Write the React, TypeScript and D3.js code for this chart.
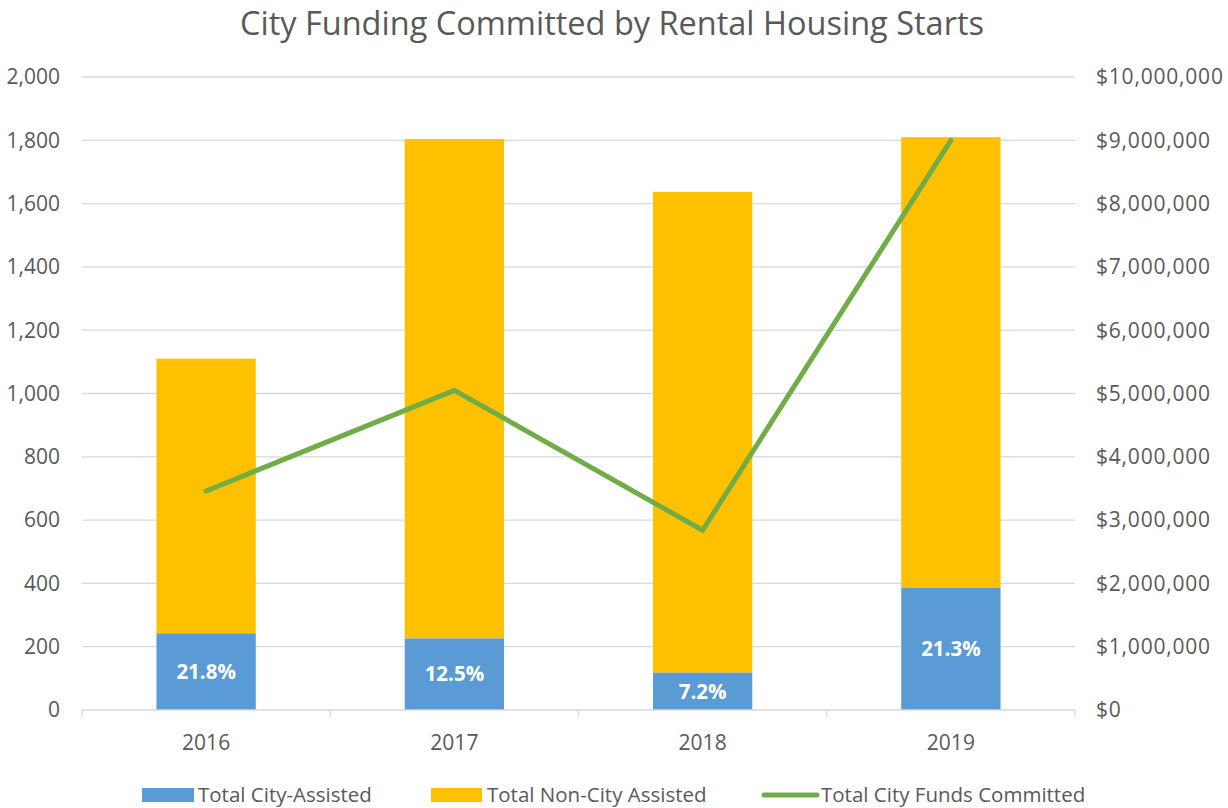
import React, { useEffect, useRef } from "react";
import * as d3 from "d3";

const years = ["2016", "2017", "2018", "2019"];
const cityAssisted = [242, 226, 118, 386];
const nonCityAssisted = [868, 1578, 1519, 1424];
const shareLabels = ["21.8%", "12.5%", "7.2%", "21.3%"];
const fundsCommitted = [3460000, 5050000, 2840000, 9000000];
const leftTicks = [0, 200, 400, 600, 800, 1000, 1200, 1400, 1600, 1800, 2000];
const rightTicks = [0, 1e6, 2e6, 3e6, 4e6, 5e6, 6e6, 7e6, 8e6, 9e6, 1e7];

const W = 1228, H = 808;
const m = { left: 82, right: 1075, top: 77, bottom: 710 };
const FONT = "'Open Sans', 'Noto Sans', sans-serif";
const TXT = "#595959";

export default function App() {
  const ref = useRef<SVGSVGElement>(null);

  useEffect(() => {
    const svg = d3.select(ref.current);
    svg.selectAll("*").remove();

    const x = d3.scaleBand().domain(years).range([m.left, m.right]).paddingInner(0.6).paddingOuter(0.3);
    const y = d3.scaleLinear().domain([0, 2000]).range([m.bottom, m.top]);
    const y2 = d3.scaleLinear().domain([0, 1e7]).range([m.bottom, m.top]);
    const step = (m.right - m.left) / years.length;

    // grid
    svg.append("g").selectAll("line").data(leftTicks.slice(1)).enter().append("line")
      .attr("x1", m.left).attr("x2", m.right)
      .attr("y1", d => y(d)).attr("y2", d => y(d))
      .attr("stroke", "#d9d9d9").attr("stroke-width", 1.3);

    // left labels
    svg.append("g").selectAll("text").data(leftTicks).enter().append("text")
      .attr("x", 60).attr("y", d => y(d)).attr("dy", "0.35em")
      .attr("text-anchor", "end").attr("font-family", FONT).attr("font-size", 21).attr("fill", TXT)
      .text(d => d3.format(",")(d));

    // right labels
    svg.append("g").selectAll("text").data(rightTicks).enter().append("text")
      .attr("x", 1096).attr("y", d => y2(d)).attr("dy", "0.35em")
      .attr("text-anchor", "start").attr("font-family", FONT).attr("font-size", 21).attr("fill", TXT)
      .attr("letter-spacing", 0.8)
      .text(d => "$" + d3.format(",")(d));

    // bars
    const gb = svg.append("g");
    years.forEach((yr, i) => {
      const total = cityAssisted[i] + nonCityAssisted[i];
      gb.append("rect").attr("x", x(yr)!).attr("width", x.bandwidth())
        .attr("y", y(total)).attr("height", y(cityAssisted[i]) - y(total)).attr("fill", "#ffc000");
      gb.append("rect").attr("x", x(yr)!).attr("width", x.bandwidth())
        .attr("y", y(cityAssisted[i])).attr("height", y(0) - y(cityAssisted[i])).attr("fill", "#5b9bd5");
      gb.append("text").attr("x", x(yr)! + x.bandwidth() / 2)
        .attr("y", (y(cityAssisted[i]) + y(0)) / 2).attr("dy", "0.35em")
        .attr("text-anchor", "middle").attr("font-family", FONT).attr("font-weight", "bold")
        .attr("font-size", 20.5).attr("fill", "#fff").text(shareLabels[i]);
    });

    // x axis
    svg.append("line").attr("x1", m.left).attr("x2", m.right).attr("y1", m.bottom).attr("y2", m.bottom)
      .attr("stroke", "#d9d9d9").attr("stroke-width", 1.3);
    d3.range(years.length + 1).forEach(i => {
      svg.append("line").attr("x1", m.left + i * step).attr("x2", m.left + i * step)
        .attr("y1", m.bottom).attr("y2", m.bottom + 7).attr("stroke", "#d9d9d9").attr("stroke-width", 1.3);
    });
    svg.append("g").selectAll("text").data(years).enter().append("text")
      .attr("x", d => x(d)! + x.bandwidth() / 2).attr("y", 743).attr("dy", "0.35em")
      .attr("text-anchor", "middle").attr("font-family", FONT).attr("font-size", 21).attr("fill", TXT)
      .text(d => d);

    // line
    const line = d3.line<number>()
      .x((_, i) => x(years[i])! + x.bandwidth() / 2)
      .y(d => y2(d));
    svg.append("path").datum(fundsCommitted).attr("d", line)
      .attr("fill", "none").attr("stroke", "#70ad47").attr("stroke-width", 5)
      .attr("stroke-linecap", "round").attr("stroke-linejoin", "round");

    // title
    svg.append("text").attr("x", 612).attr("y", 35).attr("text-anchor", "middle")
      .attr("font-family", FONT).attr("font-size", 32.5).attr("fill", TXT)
      .text("City Funding Committed by Rental Housing Starts");

    // legend
    const lg = svg.append("g").attr("font-family", FONT).attr("font-size", 20.5).attr("fill", TXT);
    lg.append("rect").attr("x", 142).attr("y", 788).attr("width", 52).attr("height", 14).attr("fill", "#5b9bd5");
    lg.append("text").attr("x", 198).attr("y", 795).attr("dy", "0.35em").text("Total City-Assisted");
    lg.append("rect").attr("x", 431).attr("y", 788).attr("width", 51).attr("height", 14).attr("fill", "#ffc000");
    lg.append("text").attr("x", 487).attr("y", 795).attr("dy", "0.35em").text("Total Non-City Assisted");
    lg.append("line").attr("x1", 764).attr("x2", 817).attr("y1", 795).attr("y2", 795)
      .attr("stroke", "#70ad47").attr("stroke-width", 5).attr("stroke-linecap", "round");
    lg.append("text").attr("x", 821).attr("y", 795).attr("dy", "0.35em").text("Total City Funds Committed");
  }, []);

  return (
    <svg ref={ref} width={W} height={H}
      style={{ display: "block", position: "fixed", left: 0, top: 0, background: "#fff" }} />
  );
}
